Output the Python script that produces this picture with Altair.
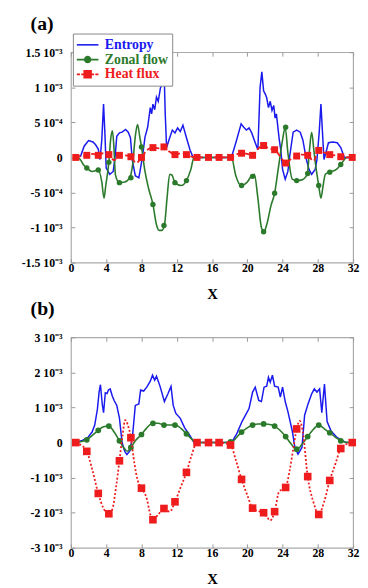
import altair as alt
import pandas as pd

# ---------------- data (values in units of 1e-3) ----------------
SERIES = ["Entropy", "Zonal flow", "Heat flux"]
BLUE, GREEN, RED = "#1a1aee", "#2b7a2b", "#ee1c1c"
FONT = "Liberation Serif"

# Panel (a)
A_ENT_X = [0.5, 1.1, 1.5, 2.0, 2.5, 2.8, 3.1, 3.3, 3.5, 3.7, 3.85, 4.0, 4.4, 4.8, 5.0, 5.2, 5.5, 5.8, 6.2, 6.5,
           6.75, 6.95, 7.3, 7.7, 7.9, 8.1, 8.4, 8.7, 9.0, 9.15, 9.3, 9.5, 9.7, 9.9, 10.15, 10.35, 10.55, 10.7,
           10.85, 11.2, 11.5, 11.8, 12.1, 12.4, 12.7, 13.1, 13.5, 13.85, 18.2, 18.7, 19.3, 19.6, 19.9, 20.2,
           20.5, 20.9, 21.2, 21.45, 21.65, 21.85, 22.05, 22.2, 22.4, 22.6, 22.8, 23.0, 23.15, 23.3, 23.6, 23.8,
           24.0, 24.3, 24.6, 24.8, 25.2, 25.6, 26.0, 26.3, 26.7, 27.0, 27.3, 27.7, 27.9, 28.15, 28.35, 28.55,
           28.7, 29.0, 29.2, 29.7, 30.2, 30.6, 31.0, 31.9]
A_ENT_V = [0.0, 0.02, 0.16, 0.24, 0.22, 0.18, 0.12, -0.03, 0.25, 0.76, 0.35, -0.15, -0.24, -0.2, 0.0, 0.3, 0.35,
           0.36, 0.4, 0.36, 0.28, -0.03, -0.26, -0.29, -0.15, 0.0, 0.29, 0.43, 0.71, 0.62, 0.76, 0.68, 0.86, 0.8,
           0.99, 1.05, 1.3, 0.6, 0.14, 0.28, 0.39, 0.35, 0.42, 0.37, 0.46, 0.28, 0.11, 0.0, 0.0, 0.21, 0.48,
           0.43, 0.39, 0.42, 0.35, 0.21, 0.11, 1.0, 1.22, 0.95, 0.9, 0.85, 0.71, 0.8, 0.67, 0.74, 0.56, 0.62,
           0.28, 0.1, -0.17, -0.31, -0.2, 0.01, 0.36, 0.39, 0.36, 0.25, -0.03, -0.17, -0.24, -0.17, -0.03, 0.35,
           0.76, 0.3, -0.03, 0.11, 0.21, 0.22, 0.21, 0.14, 0.0, 0.0]

A_ZON_X = [0.55, 1.0, 1.4, 1.8, 2.4, 3.1, 3.5, 3.75, 3.95, 4.3, 4.5, 4.7, 4.85, 5.05, 5.5, 6.1, 6.7, 7.0, 7.3,
           7.55, 7.8, 8.0, 8.4, 8.8, 9.3, 9.7, 10.0, 10.3, 10.6, 10.9, 11.2, 11.45, 11.8, 12.5, 13.1, 13.6,
           13.95, 18.2, 18.7, 19.3, 20.0, 20.5, 20.8, 21.2, 21.6, 21.9, 22.2, 22.7, 23.1, 23.5, 24.0, 24.3,
           24.6, 25.1, 25.6, 26.2, 26.8, 27.05, 27.3, 27.55, 27.85, 28.1, 28.35, 28.6, 28.85, 29.3, 30.1,
           30.6, 31.3, 31.9]
A_ZON_V = [0.0, -0.02, -0.1, -0.15, -0.2, -0.18, -0.35, -0.58, -0.4, -0.07, 0.25, 0.38, 0.2, -0.25, -0.36,
           -0.35, -0.28, -0.1, 0.3, 0.47, 0.3, 0.15, -0.2, -0.44, -0.67, -0.96, -1.04, -1.04, -0.97, -0.58,
           -0.24, -0.25, -0.36, -0.4, -0.33, -0.17, 0.0, 0.0, -0.26, -0.4, -0.35, -0.26, -0.24, -0.58, -1.0,
           -1.06, -0.96, -0.68, -0.51, -0.17, 0.25, 0.43, 0.07, -0.31, -0.33, -0.32, -0.24, 0.1, 0.36, 0.1,
           -0.2, -0.4, -0.58, -0.4, -0.24, -0.21, -0.17, -0.1, 0.0, 0.0]

MK_X = [0.55, 1.8, 3.1, 4.3, 5.5, 6.8, 8.0, 9.3, 10.55, 11.8, 13.1, 14.3, 15.6, 16.8, 18.1, 19.35, 20.6,
        21.85, 23.1, 24.35, 25.6, 26.85, 28.1, 29.35, 30.6, 31.9]
A_ZON_MK = [0.0, -0.15, -0.18, -0.07, -0.36, -0.29, 0.15, -0.67, -0.97, -0.36, -0.33, 0.0, 0.0, 0.0, 0.0, -0.4,
            -0.27, -1.06, -0.51, 0.43, -0.33, -0.23, -0.4, -0.21, -0.1, 0.0]

A_HEAT_X = [0.55, 1.2, 1.8, 2.5, 3.1, 3.7, 4.3, 4.9, 5.5, 6.1, 6.8, 7.4, 8.0, 8.6, 9.3, 9.9, 10.55, 11.2, 11.8,
            12.5, 13.1, 13.7, 14.3, 18.1, 18.7, 19.35, 20.0, 20.6, 21.2, 21.85, 22.4, 23.1, 23.7, 24.35, 25.0,
            25.6, 26.2, 26.85, 27.5, 28.1, 28.7, 29.35, 30.0, 30.6, 31.2, 31.9]
A_HEAT_V = [0.0, 0.02, 0.03, 0.05, 0.03, 0.06, 0.04, -0.04, 0.03, 0.03, 0.01, -0.08, 0.0, 0.1, 0.14, 0.13, 0.15,
            0.08, 0.04, 0.06, 0.04, 0.01, 0.0, 0.0, 0.04, 0.06, 0.05, 0.03, 0.12, 0.17, 0.13, 0.11, 0.02, -0.08,
            -0.02, 0.02, 0.04, 0.03, -0.05, 0.1, 0.07, 0.04, 0.03, 0.01, 0.0, 0.0]
A_HEAT_MK = [0.0, 0.03, 0.03, 0.04, 0.03, 0.01, 0.0, 0.14, 0.15, 0.04, 0.04, 0.0, 0.0, 0.0, 0.0, 0.06, 0.03, 0.17,
             0.11, -0.08, 0.02, 0.03, 0.1, 0.04, 0.01, 0.0]

# Panel (b)
B_ENT_X = [0.5, 1.2, 1.9, 2.4, 2.7, 3.0, 3.2, 3.35, 3.55, 3.7, 3.9, 4.1, 4.25, 4.45, 4.7, 4.9, 5.2, 5.5, 5.8,
           6.1, 6.35, 6.7, 7.0, 7.3, 7.7, 7.9, 8.25, 8.6, 9.0, 9.25, 9.5, 9.7, 10.1, 10.6, 11.0, 11.35, 11.6,
           11.9, 12.4, 12.9, 13.5, 13.95, 18.2, 18.8, 19.4, 20.2, 20.6, 20.9, 21.3, 21.6, 21.9, 22.2, 22.4,
           22.6, 22.85, 23.1, 23.5, 23.75, 24.0, 24.3, 24.6, 25.1, 25.4, 25.75, 26.2, 26.5, 26.9, 27.3, 27.6,
           27.9, 28.2, 28.45, 28.75, 29.05, 29.5, 30.2, 31.2, 31.9]
B_ENT_V = [0.0, 0.05, 0.14, 0.3, 0.5, 0.95, 1.45, 1.65, 1.1, 0.85, 1.42, 1.4, 1.5, 1.53, 1.32, 1.2, 1.06, 0.7,
           0.0, -0.25, -0.34, -0.23, 0.23, 1.06, 1.1, 1.5, 1.47, 1.58, 1.75, 1.92, 1.78, 1.89, 1.61, 1.17, 1.39,
           1.6, 1.06, 0.83, 0.69, 0.42, 0.2, 0.0, 0.0, 0.25, 0.6, 0.97, 1.44, 1.58, 1.2, 1.17, 1.58, 1.61, 1.86,
           1.72, 1.92, 1.61, 1.58, 1.3, 1.58, 1.17, 0.89, 0.33, -0.14, -0.33, -0.14, 0.78, 1.11, 1.39, 1.53,
           1.44, 1.53, 0.85, 1.67, 0.6, 0.33, 0.14, 0.0, 0.0]

B_ZON_X = [0.5, 1.2, 1.8, 2.4, 3.1, 3.7, 4.3, 4.9, 5.5, 6.0, 6.4, 6.8, 7.3, 8.0, 8.6, 9.3, 9.9, 10.55, 11.2,
           11.8, 12.5, 13.1, 13.7, 14.2, 18.1, 18.8, 19.35, 20.0, 20.6, 21.2, 21.85, 22.4, 23.1, 23.7, 24.35,
           25.0, 25.6, 26.2, 26.85, 27.5, 28.1, 28.7, 29.35, 30.0, 30.6, 31.2, 31.9]
B_ZON_V = [0.0, 0.03, 0.08, 0.2, 0.35, 0.45, 0.47, 0.3, 0.05, -0.15, -0.25, -0.14, 0.05, 0.23, 0.42, 0.55,
           0.55, 0.5, 0.5, 0.5, 0.4, 0.25, 0.1, 0.0, 0.0, 0.15, 0.3, 0.42, 0.5, 0.53, 0.53, 0.52, 0.47, 0.35,
           0.17, -0.05, -0.2, -0.05, 0.17, 0.38, 0.5, 0.4, 0.28, 0.15, 0.05, 0.01, 0.0]
B_ZON_MK = [0.0, 0.08, 0.35, 0.47, 0.05, -0.14, 0.23, 0.55, 0.5, 0.5, 0.25, 0.0, 0.0, 0.0, 0.02, 0.3, 0.5, 0.53,
            0.47, 0.17, -0.19, 0.17, 0.5, 0.28, 0.05, 0.0]

B_HEAT_X = [0.55, 1.0, 1.8, 2.4, 3.1, 3.7, 4.3, 4.7, 5.1, 5.5, 5.85, 6.15, 6.45, 6.8, 7.2, 7.6, 8.0, 8.6, 9.0,
            9.3, 9.9, 10.55, 11.2, 11.8, 12.4, 13.1, 13.7, 14.3, 15.6, 16.8, 18.1, 18.7, 19.35, 20.0, 20.6,
            21.2, 21.85, 22.3, 22.6, 23.1, 23.6, 24.35, 24.8, 25.2, 25.6, 25.95, 26.3, 26.85, 27.5, 28.1, 28.7,
            29.35, 30.0, 30.6, 31.2, 31.9]
B_HEAT_V = [0.0, -0.05, -0.25, -0.75, -1.45, -1.88, -2.03, -1.9, -1.3, -0.52, 0.2, 0.64, 0.5, 0.14, -0.6,
            -1.1, -1.3, -1.6, -2.05, -2.2, -2.05, -1.88, -1.97, -1.69, -1.3, -0.85, -0.35, 0.0, 0.0, 0.0, -0.07,
            -0.5, -1.05, -1.5, -1.87, -1.95, -2.0, -2.15, -2.22, -1.97, -1.4, -1.28, -0.8, -0.2, 0.39, 0.62,
            0.3, -0.97, -1.7, -2.05, -1.7, -1.08, -0.6, -0.17, -0.05, 0.0]
B_HEAT_MK = [0.0, -0.25, -1.45, -2.03, -0.52, 0.14, -1.3, -2.2, -1.88, -1.69, -0.85, 0.0, 0.0, 0.0, -0.07,
             -1.05, -1.87, -2.0, -1.97, -1.28, 0.39, -0.97, -2.05, -1.08, -0.17, 0.0]

# ---------------- chart ----------------
SOLID_PATH = "M-1.69,0L1.69,0"
CIRCLE_PATH = "M-1.69,0L1.69,0M0.46,0A0.46,0.46,0,1,1,-0.46,0A0.46,0.46,0,1,1,0.46,0Z"
SQ = "M-0.54,-0.54L0.54,-0.54L0.54,0.54L-0.54,0.54Z"
DASH_PATH_A = "M-1.69,0L-1.2,0M-1.0,0L-0.6,0M0.6,0L1.0,0M1.2,0L1.69,0" + SQ
DASH_PATH_B = "M-1.69,0L-1.45,0M-1.25,0L-1.0,0M-0.8,0L-0.6,0M0.6,0L0.8,0M1.0,0L1.25,0M1.45,0L1.69,0" + SQ

LABEL_COLOR = ("datum.label == 'Entropy' ? '" + BLUE + "' : datum.label == 'Zonal flow' ? '"
               + GREEN + "' : '" + RED + "'")

YEXPR_A = ("datum.value == 0 ? '0' : (datum.value < 0 ? '-' : '') + (abs(datum.value) == 0.5 ? "
           "'5 10\u207b\u2074' : format(abs(datum.value), '~g') + ' 10\u207b\u00b3')")
YEXPR_B = ("datum.value == 0 ? '0' : (datum.value < 0 ? '-' : '') + format(abs(datum.value), '~g') "
           "+ ' 10\u207b\u00b3'")


def df(x, v):
    return pd.DataFrame({"x": x, "v": v})


def panel(tag, ent, zon, zmk, heat, hmk, ydom, yvals, yexpr, dash, heat_path, legend_y, msize):
    xscale = alt.Scale(domain=[0, 32], nice=False, zero=False)
    yscale = alt.Scale(domain=ydom, nice=False, zero=False)
    xaxis = alt.Axis(orient="bottom", values=list(range(0, 33, 4)), title="X", labelFont=FONT,
                     labelFontWeight="bold", labelFontSize=12, labelColor="black", titleFont=FONT,
                     titleFontWeight="bold", titleFontSize=15, titleColor="black", titlePadding=13,
                     domain=False, grid=False, tickSize=alt.ExprRef("-4"), tickColor="#999",
                     labelPadding=4, labelFlush=False)
    yaxis = alt.Axis(orient="left", values=yvals, title=None, labelExpr=yexpr, labelFont=FONT,
                     labelFontWeight="bold", labelFontSize=12, labelColor="black", domain=False, grid=False,
                     tickSize=alt.ExprRef("-4"), tickColor="#999", labelPadding=13, minExtent=63)
    xtop = alt.Axis(orient="top", values=list(range(0, 33, 4)), labels=False, title=None, domain=False,
                    grid=False, tickSize=alt.ExprRef("-4"), tickColor="#999", minExtent=0, maxExtent=0)
    yright = alt.Axis(orient="right", values=yvals, labels=False, title=None, domain=False, grid=False,
                      tickSize=alt.ExprRef("-4"), tickColor="#999", minExtent=0, maxExtent=0)

    X = alt.X("x:Q", scale=xscale, axis=xaxis)
    Y = alt.Y("v:Q", scale=yscale, axis=yaxis)
    Xn = alt.X("x:Q", scale=xscale, axis=None)
    Yn = alt.Y("v:Q", scale=yscale, axis=None)

    l_ent = alt.Chart(df(*ent)).mark_line(color=BLUE, strokeWidth=1.5).encode(x=X, y=Y)
    l_zon = alt.Chart(df(*zon)).mark_line(color=GREEN, strokeWidth=1.6, interpolate="monotone").encode(
        x=alt.X("x:Q", scale=xscale, axis=xtop), y=alt.Y("v:Q", scale=yscale, axis=yright))
    p_zon = alt.Chart(df(*zmk)).mark_point(shape="circle", filled=True, color=GREEN, opacity=1,
                                           size=msize[0]).encode(x=Xn, y=Yn)
    l_heat = alt.Chart(df(*heat)).mark_line(color=RED, strokeWidth=1.8, strokeDash=dash,
                                            interpolate="monotone").encode(x=Xn, y=Yn)
    p_heat = alt.Chart(df(*hmk)).mark_point(shape="square", filled=True, color=RED, opacity=1,
                                            size=msize[1]).encode(x=Xn, y=Yn)

    legend = alt.Legend(title=None, orient="none", legendX=2, legendY=legend_y, direction="vertical",
                        fillColor="white", strokeColor="#888", padding=4, labelFont=FONT,
                        labelFontWeight="bold", labelFontSize=14, labelColor=alt.ExprRef(LABEL_COLOR),
                        symbolSize=169, symbolStrokeWidth=1.6, symbolOffset=3.5, labelOffset=10,
                        rowPadding=0, labelBaseline="middle", zindex=1)
    leg_df = pd.DataFrame({"series": SERIES})
    l_leg = alt.Chart(leg_df).mark_point(filled=True, opacity=1, clip=True).encode(
        x=alt.value(-300), y=alt.value(-300),
        shape=alt.Shape("series:N", scale=alt.Scale(domain=SERIES, range=[SOLID_PATH, CIRCLE_PATH, heat_path]),
                        legend=legend),
        fill=alt.Fill("series:N", scale=alt.Scale(domain=SERIES, range=[BLUE, GREEN, RED]), legend=legend),
        stroke=alt.Stroke("series:N", scale=alt.Scale(domain=SERIES, range=[BLUE, GREEN, RED]), legend=legend),
    )

    return alt.layer(l_ent, l_zon, p_zon, l_heat, p_heat, l_leg).properties(
        width=287, height=214,
        title=alt.TitleParams(tag, anchor="start", frame="group", dx=-41, fontSize=20, font=FONT,
                              fontWeight="bold", color="black", offset=13))


pa = panel("(a)", (A_ENT_X, A_ENT_V), (A_ZON_X, A_ZON_V), (MK_X, A_ZON_MK), (A_HEAT_X, A_HEAT_V),
           (MK_X, A_HEAT_MK), [-1.5, 1.5], [-1.5, -1, -0.5, 0, 0.5, 1, 1.5], YEXPR_A, [5, 3], DASH_PATH_A,
           -19, (30, 50))
pb = panel("(b)", (B_ENT_X, B_ENT_V), (B_ZON_X, B_ZON_V), (MK_X, B_ZON_MK), (B_HEAT_X, B_HEAT_V),
           (MK_X, B_HEAT_MK), [-3, 3], [-3, -2, -1, 0, 1, 2, 3], YEXPR_B, [2, 2], DASH_PATH_B,
           -16, (34, 60))

chart = alt.vconcat(pa, pb, spacing=-4).properties(padding=0).configure_view(
    stroke="#aaa", strokeWidth=1.2)

chart.save("out.html", embed_options={"renderer": "svg", "actions": False})
